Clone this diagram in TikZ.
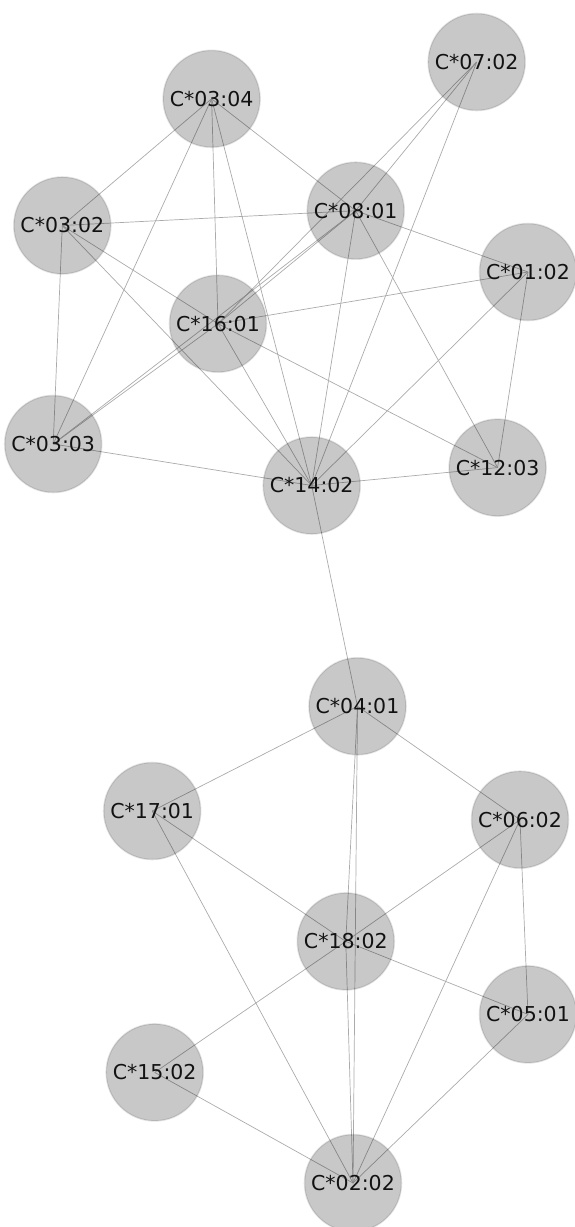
\documentclass[tikz,border=0pt]{standalone}
\usepackage{fontspec}
\setmainfont{DejaVu Sans}
\pgfdeclarelayer{edges}
\pgfsetlayers{edges,main}
\begin{document}
\begin{tikzpicture}[x=1pt,y=-1pt,
  vtx/.style={circle,minimum size=97pt,inner sep=0pt,fill=black,fill opacity=0.215,
    draw=black,draw opacity=0.1,line width=1.6pt,text opacity=1,text=black!93,
    font=\fontsize{20.5}{24}\selectfont},
  edge/.style={draw=black!33,line width=0.7pt}]
\useasboundingbox (0,0) rectangle (575,1227);
\node[vtx] (n0304) at (211.6,98.8) {C*03:04};
\node[vtx] (n0702) at (476.7,62) {C*07:02};
\node[vtx] (n0302) at (62.3,225.5) {C*03:02};
\node[vtx] (n0801) at (355.7,210.7) {C*08:01};
\node[vtx] (n0102) at (528,272) {C*01:02};
\node[vtx] (n1601) at (218,323.7) {C*16:01};
\node[vtx] (n0303) at (53.2,444) {C*03:03};
\node[vtx] (n1402) at (311.7,485.5) {C*14:02};
\node[vtx] (n1203) at (497.6,467.6) {C*12:03};
\node[vtx] (n0401) at (357.5,706.3) {C*04:01};
\node[vtx] (n1701) at (152.2,811) {C*17:01};
\node[vtx] (n0602) at (520,819.7) {C*06:02};
\node[vtx] (n1802) at (345.8,941.4) {C*18:02};
\node[vtx] (n0501) at (528,1014.4) {C*05:01};
\node[vtx] (n1502) at (154.7,1072.4) {C*15:02};
\node[vtx] (n0202) at (353,1183) {C*02:02};
\begin{pgfonlayer}{edges}
\foreach \a/\b in {n0304/n0302,n0304/n0303,n0304/n1601,n0304/n1402,n0304/n0801,
  n0702/n0801,n0702/n1601,n0702/n1402,
  n0302/n0801,n0302/n1601,n0302/n1402,n0302/n0303,
  n0801/n0102,n0801/n1402,n0801/n1203,n0801/n1601,n0801/n0303,
  n0102/n1601,n0102/n1402,n0102/n1203,
  n1601/n1203,n1601/n1402,n1601/n0303,
  n0303/n1402,n1402/n1203,n1402/n0401,
  n0401/n1701,n0401/n0602,n0401/n1802,n0401/n0202,
  n1701/n1802,n1701/n0202,
  n0602/n1802,n0602/n0202,n0602/n0501,
  n1802/n0501,n1802/n1502,n1802/n0202,
  n1502/n0202,n0501/n0202}
  \draw[edge] (\a.center) -- (\b.center);
\end{pgfonlayer}
\end{tikzpicture}
\end{document}
